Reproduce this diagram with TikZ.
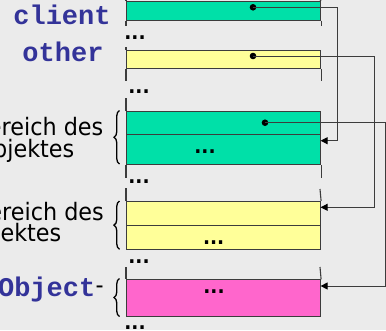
\documentclass[tikz,border=0pt]{standalone}
\usepackage{fontspec}
\setmainfont{DejaVu Sans}[FakeStretch=0.93]
\newfontfamily\codefont{Liberation Mono}
\usetikzlibrary{arrows.meta,decorations.pathreplacing,calc}

\definecolor{bgfill}{HTML}{EBEBEB}
\definecolor{edgegray}{HTML}{3C3C3C}
\definecolor{objgreen}{HTML}{00E0A8}
\definecolor{objyellow}{HTML}{FFFF99}
\definecolor{objpink}{HTML}{FF66CC}
\definecolor{codeblue}{HTML}{333399}

\begin{document}
\begin{tikzpicture}[x=1pt,y=-1pt,
  cell/.style={draw=edgegray,line width=1.1pt,inner sep=0pt,anchor=north west,
               minimum width=194pt},
  wall/.style={draw=edgegray,line width=1.1pt},
  ptr/.style={circle,fill=black,inner sep=0pt,minimum size=6.6pt},
  link/.style={draw=edgegray,line width=1pt,
               -{Triangle[length=7pt,width=7pt,color=black]}},
  curly/.style={draw=black,line width=1.3pt,decorate,
                decoration={brace,amplitude=5.5pt}},
  codelabel/.style={text=codeblue,font=\codefont\bfseries\fontsize{27}{27}\selectfont,
                    inner sep=0pt},
  textlabel/.style={text=black,font=\fontsize{24}{24}\selectfont,inner sep=0pt},
  ellipsis/.style={font=\bfseries\fontsize{20}{20}\selectfont,inner sep=0pt,
                   anchor=base west},
]
\clip (0,0) rectangle (386,330);
\fill[bgfill] (0,0) rectangle (386,330);

% ---- memory cells ----
\node[cell,fill=objgreen,minimum height=18.5pt]  (client) at (126,1) {};
\node[cell,fill=objyellow,minimum height=18pt]   (other)  at (126,50) {};
\node[cell,fill=objgreen,minimum height=23.5pt]  (gA)     at (126,110.5) {};
\node[cell,fill=objgreen,minimum height=30pt]    (gB)     at (126,134) {};
\node[cell,fill=objyellow,minimum height=24pt]   (yA)     at (126,201) {};
\node[cell,fill=objyellow,minimum height=24.3pt] (yB)     at (126,225) {};
\node[cell,fill=objpink,minimum height=36.7pt]   (pk)     at (126,279.3) {};

% ---- column walls between the cells ----
\draw[wall] (126,0) -- (client.north west);
\draw[wall] (320,0) -- (client.north east);
\draw[wall] (client.south west) -- ++(0,5.5);
\draw[wall] (client.south east) -- ++(0,5.5);
\draw[wall] (126,47) -- (other.north west);
\draw[wall] (other.south west) -- ++(0,12);
\draw[wall] (other.south east) -- ++(0,12);
\draw[wall] (126,98) -- (gA.north west);
\draw[wall] (gB.south west) -- ++(0,12.7);
\draw[wall] (gB.south east) -- ++(0,12.7);
\draw[wall] (126,188.3) -- (yA.north west);
\draw[wall] (320,189) -- (yA.north east);
\draw[wall] (126,267) -- (pk.north west);
\draw[wall] (320,267) -- (pk.north east);

% ---- references ----
\node[ptr] (cdot) at (253,7.3) {};
\node[ptr] (odot) at (253,56) {};
\node[ptr] (gdot) at (265,122.7) {};
\coordinate (gin) at (320.6,140.7);
\coordinate (yin) at (320.6,207.3);
\coordinate (pin) at (320.6,286);
\draw[link] (cdot.center) -| ($(gin)+(16.8,0)$) -- (gin);
\draw[link] (odot.center) -| ($(yin)+(53.6,0)$) -- (yin);
\draw[link] (gdot.center) -| ($(pin)+(64.9,0)$) -- (pin);

% ---- braces ----
\draw[curly] (119.5,164) -- (119.5,110.5);
\draw[curly] (119.5,249.3) -- (119.5,201);
\draw[curly] (119.5,316.5) -- (119.5,278.5);

% ---- labels ----
\node[codelabel,anchor=base] (lclient) at (62,24.3) {client};
\node[codelabel,anchor=base] (lother)  at (63,61.7) {other};
\node[textlabel,anchor=base east] (g1) at (103.5,135)   {Speicherbereich des};
\node[textlabel,anchor=base east] (g2) at (74.5,157.7)  {Objektes};
\node[textlabel,anchor=base east] (y1) at (104,220)     {Speicherbereich des};
\node[textlabel,anchor=base east] (y2) at (61.5,241.7)  {Objektes};
\node[codelabel,anchor=base east] (lobj) at (95.5,296) {Object};
\node[textlabel,anchor=base west] (lhyph) at (lobj.base east) [yshift=2.5pt] {-};

% ---- elided cells ----
\node[ellipsis] (e1) at (124.2,39.7)  {...};
\node[ellipsis] (e2) at (128.2,93.7)  {...};
\node[ellipsis] (e3) at (194.2,153.7) {...};
\node[ellipsis] (e4) at (128.2,183.7) {...};
\node[ellipsis] (e5) at (202.9,244.7) {...};
\node[ellipsis] (e6) at (128.2,263)   {...};
\node[ellipsis] (e7) at (203.2,293)   {...};
\node[ellipsis] (e8) at (124.2,329.7) {...};
\end{tikzpicture}
\end{document}
